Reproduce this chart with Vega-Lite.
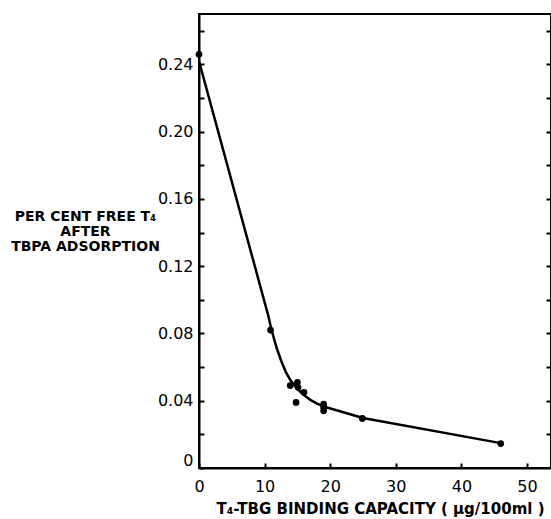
{
  "$schema": "https://vega.github.io/schema/vega-lite/v6.json",
  "width": 352,
  "height": 454,
  "autosize": "none",
  "padding": {"left": 199, "top": 14, "right": 0, "bottom": 51},
  "background": "white",
  "config": {
    "view": {"stroke": "black", "strokeWidth": 2},
    "axis": {
      "grid": false,
      "domainColor": "black",
      "domainWidth": 2,
      "tickColor": "black",
      "tickWidth": 2,
      "labelColor": "black",
      "labelFont": "DejaVu Sans",
      "labelFontSize": 16,
      "titleColor": "black",
      "titleFont": "DejaVu Sans",
      "titleFontWeight": "bold"
    }
  },
  "datasets": {
    "points": [
      {"x": 0, "y": 0.246},
      {"x": 10.9, "y": 0.082},
      {"x": 13.9, "y": 0.049},
      {"x": 15.0, "y": 0.051},
      {"x": 15.1, "y": 0.048},
      {"x": 16.0, "y": 0.045},
      {"x": 14.8, "y": 0.039},
      {"x": 19.0, "y": 0.038},
      {"x": 19.0, "y": 0.036},
      {"x": 19.0, "y": 0.034},
      {"x": 24.9, "y": 0.0295},
      {"x": 46.0, "y": 0.0145}
    ],
    "curve": [
      {"x": 0, "y": 0.242},
      {"x": 10.6, "y": 0.09},
      {"x": 11, "y": 0.083},
      {"x": 11.8, "y": 0.0718},
      {"x": 12.6, "y": 0.063},
      {"x": 13.3, "y": 0.0565},
      {"x": 14, "y": 0.0518},
      {"x": 15, "y": 0.047},
      {"x": 16, "y": 0.0434},
      {"x": 16.9, "y": 0.0407},
      {"x": 18, "y": 0.0383},
      {"x": 19, "y": 0.0366},
      {"x": 25, "y": 0.0297},
      {"x": 46, "y": 0.0148}
    ]
  },
  "layer": [
    {
      "data": {"name": "curve"},
      "mark": {"type": "line", "color": "black", "strokeWidth": 2.5, "strokeJoin": "round"},
      "encoding": {
        "x": {
          "field": "x", "type": "quantitative",
          "scale": {"domain": [0, 53.66], "nice": false, "zero": false},
          "axis": {
            "orient": "bottom",
            "values": [0, 10, 20, 30, 40, 50],
            "tickSize": -5,
            "labelPadding": 15,
            "labelFlush": false,
            "title": "T₄-TBG BINDING CAPACITY ( μg/100ml )",
            "titleFontSize": 15,
            "titleBaseline": "alphabetic",
            "titleAlign": "center",
            "titleX": 181,
            "titleY": 45
          }
        },
        "y": {
          "field": "y", "type": "quantitative",
          "scale": {"domain": [0, 0.27], "nice": false, "zero": false},
          "axis": {
            "orient": "left",
            "values": [0, 0.02, 0.04, 0.06, 0.08, 0.1, 0.12, 0.14, 0.16, 0.18, 0.2, 0.22, 0.24, 0.26],
            "labelExpr": "datum.value == 0 ? '0' : (round(datum.value * 100) % 4 == 0 && datum.value < 0.25 ? format(datum.value, '.2f') : '')",
            "tickSize": -5,
            "labelPadding": 11,
            "labelFlush": true,
            "labelFlushOffset": 0,
            "title": ["PER CENT FREE T₄", "AFTER", "TBPA ADSORPTION"],
            "titleFontSize": 14,
            "titleAngle": 0,
            "titleAlign": "center",
            "titleBaseline": "alphabetic",
            "titleX": -114,
            "titleY": 206,
            "titleLineHeight": 15
          }
        }
      }
    },
    {
      "data": {"name": "points"},
      "mark": {"type": "circle", "size": 45, "color": "black", "opacity": 1},
      "encoding": {
        "x": {"field": "x", "type": "quantitative"},
        "y": {
          "field": "y", "type": "quantitative",
          "axis": {
            "orient": "right",
            "values": [0.02, 0.04, 0.06, 0.08, 0.1, 0.12, 0.14, 0.16, 0.18, 0.2, 0.22, 0.24, 0.26],
            "labels": false,
            "tickSize": -5,
            "title": null
          }
        }
      }
    }
  ],
  "resolve": {"axis": {"y": "independent"}}
}
